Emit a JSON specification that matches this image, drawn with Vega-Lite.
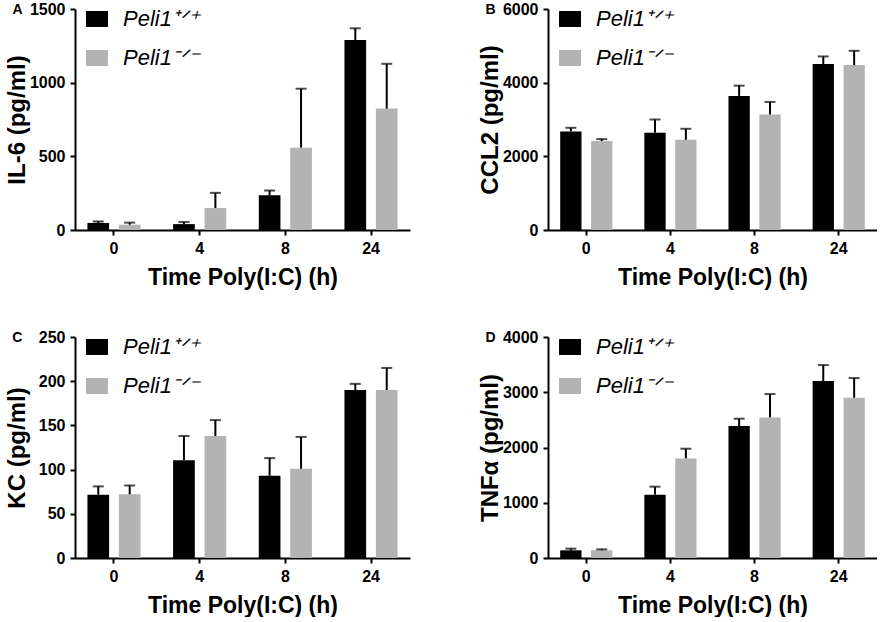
{
  "$schema": "https://vega.github.io/schema/vega-lite/v6.json",
  "padding": {"left": 5, "top": 1, "right": 0, "bottom": 0},
  "background": "#ffffff",
  "datasets": {
    "cyto": [
      {"panel": "A", "time": "0", "geno": "Peli1⁺ᐟ⁺", "mean": 48, "upper": 58},
      {"panel": "A", "time": "0", "geno": "Peli1⁻ᐟ⁻", "mean": 36, "upper": 50},
      {"panel": "A", "time": "4", "geno": "Peli1⁺ᐟ⁺", "mean": 40, "upper": 54},
      {"panel": "A", "time": "4", "geno": "Peli1⁻ᐟ⁻", "mean": 149, "upper": 252},
      {"panel": "A", "time": "8", "geno": "Peli1⁺ᐟ⁺", "mean": 236, "upper": 268},
      {"panel": "A", "time": "8", "geno": "Peli1⁻ᐟ⁻", "mean": 559, "upper": 959},
      {"panel": "A", "time": "24", "geno": "Peli1⁺ᐟ⁺", "mean": 1290, "upper": 1369},
      {"panel": "A", "time": "24", "geno": "Peli1⁻ᐟ⁻", "mean": 824, "upper": 1128},
      {"panel": "B", "time": "0", "geno": "Peli1⁺ᐟ⁺", "mean": 2676, "upper": 2775},
      {"panel": "B", "time": "0", "geno": "Peli1⁻ᐟ⁻", "mean": 2414, "upper": 2468},
      {"panel": "B", "time": "4", "geno": "Peli1⁺ᐟ⁺", "mean": 2640, "upper": 3000},
      {"panel": "B", "time": "4", "geno": "Peli1⁻ᐟ⁻", "mean": 2450, "upper": 2748},
      {"panel": "B", "time": "8", "geno": "Peli1⁺ᐟ⁺", "mean": 3640, "upper": 3919},
      {"panel": "B", "time": "8", "geno": "Peli1⁻ᐟ⁻", "mean": 3135, "upper": 3477},
      {"panel": "B", "time": "24", "geno": "Peli1⁺ᐟ⁺", "mean": 4505, "upper": 4712},
      {"panel": "B", "time": "24", "geno": "Peli1⁻ᐟ⁻", "mean": 4477, "upper": 4865},
      {"panel": "C", "time": "0", "geno": "Peli1⁺ᐟ⁺", "mean": 71.6, "upper": 81},
      {"panel": "C", "time": "0", "geno": "Peli1⁻ᐟ⁻", "mean": 72, "upper": 82},
      {"panel": "C", "time": "4", "geno": "Peli1⁺ᐟ⁺", "mean": 110.6, "upper": 138},
      {"panel": "C", "time": "4", "geno": "Peli1⁻ᐟ⁻", "mean": 138, "upper": 156},
      {"panel": "C", "time": "8", "geno": "Peli1⁺ᐟ⁺", "mean": 93, "upper": 113},
      {"panel": "C", "time": "8", "geno": "Peli1⁻ᐟ⁻", "mean": 101, "upper": 137},
      {"panel": "C", "time": "24", "geno": "Peli1⁺ᐟ⁺", "mean": 190, "upper": 197},
      {"panel": "C", "time": "24", "geno": "Peli1⁻ᐟ⁻", "mean": 190, "upper": 215},
      {"panel": "D", "time": "0", "geno": "Peli1⁺ᐟ⁺", "mean": 139, "upper": 169},
      {"panel": "D", "time": "0", "geno": "Peli1⁻ᐟ⁻", "mean": 139, "upper": 157},
      {"panel": "D", "time": "4", "geno": "Peli1⁺ᐟ⁺", "mean": 1146, "upper": 1291},
      {"panel": "D", "time": "4", "geno": "Peli1⁻ᐟ⁻", "mean": 1803, "upper": 1978},
      {"panel": "D", "time": "8", "geno": "Peli1⁺ᐟ⁺", "mean": 2388, "upper": 2521},
      {"panel": "D", "time": "8", "geno": "Peli1⁻ᐟ⁻", "mean": 2545, "upper": 2967},
      {"panel": "D", "time": "24", "geno": "Peli1⁺ᐟ⁺", "mean": 3202, "upper": 3492},
      {"panel": "D", "time": "24", "geno": "Peli1⁻ᐟ⁻", "mean": 2901, "upper": 3257}
    ]
  },
  "data": {"name": "cyto"},
  "columns": 2,
  "spacing": {"column": 68, "row": 40},
  "concat": [
    {
      "width": 335,
      "height": 221,
      "title": {"text": "A"},
      "transform": [{"filter": "datum.panel === 'A'"}],
      "encoding": {
        "x": {"field": "time", "type": "nominal", "title": "Time Poly(I:C) (h)",
              "scale": {"domain": ["0", "4", "8", "24"], "paddingInner": 0.38, "paddingOuter": 0.145}},
        "xOffset": {"field": "geno", "type": "nominal",
                    "scale": {"domain": ["Peli1⁺ᐟ⁺", "Peli1⁻ᐟ⁻"], "paddingInner": 0.31, "paddingOuter": 0}}
      },
      "layer": [
        {
          "mark": {"type": "bar"},
          "encoding": {
            "y": {"field": "mean", "type": "quantitative", "title": "IL-6 (pg/ml)",
                  "scale": {"domain": [0, 1500], "nice": false},
                  "axis": {"values": [0, 500, 1000, 1500]}},
            "color": {"field": "geno", "type": "nominal", "title": null,
                      "scale": {"domain": ["Peli1⁺ᐟ⁺", "Peli1⁻ᐟ⁻"], "range": ["#000000", "#b3b3b3"]}}
          }
        },
        {
          "mark": {"type": "rule", "color": "#000000", "strokeWidth": 2},
          "encoding": {"y": {"field": "mean", "type": "quantitative"}, "y2": {"field": "upper"}}
        },
        {
          "mark": {"type": "tick", "color": "#000000", "thickness": 2, "size": 11},
          "encoding": {"y": {"field": "upper", "type": "quantitative"}}
        }
      ]
    },
    {
      "width": 329,
      "height": 221,
      "title": {"text": "B"},
      "transform": [{"filter": "datum.panel === 'B'"}],
      "encoding": {
        "x": {"field": "time", "type": "nominal", "title": "Time Poly(I:C) (h)",
              "scale": {"domain": ["0", "4", "8", "24"], "paddingInner": 0.38, "paddingOuter": 0.145}},
        "xOffset": {"field": "geno", "type": "nominal",
                    "scale": {"domain": ["Peli1⁺ᐟ⁺", "Peli1⁻ᐟ⁻"], "paddingInner": 0.31, "paddingOuter": 0}}
      },
      "layer": [
        {
          "mark": {"type": "bar"},
          "encoding": {
            "y": {"field": "mean", "type": "quantitative", "title": "CCL2 (pg/ml)",
                  "scale": {"domain": [0, 6000], "nice": false},
                  "axis": {"values": [0, 2000, 4000, 6000]}},
            "color": {"field": "geno", "type": "nominal", "title": null,
                      "scale": {"domain": ["Peli1⁺ᐟ⁺", "Peli1⁻ᐟ⁻"], "range": ["#000000", "#b3b3b3"]}}
          }
        },
        {
          "mark": {"type": "rule", "color": "#000000", "strokeWidth": 2},
          "encoding": {"y": {"field": "mean", "type": "quantitative"}, "y2": {"field": "upper"}}
        },
        {
          "mark": {"type": "tick", "color": "#000000", "thickness": 2, "size": 11},
          "encoding": {"y": {"field": "upper", "type": "quantitative"}}
        }
      ]
    },
    {
      "width": 335,
      "height": 221,
      "title": {"text": "C"},
      "transform": [{"filter": "datum.panel === 'C'"}],
      "encoding": {
        "x": {"field": "time", "type": "nominal", "title": "Time Poly(I:C) (h)",
              "scale": {"domain": ["0", "4", "8", "24"], "paddingInner": 0.38, "paddingOuter": 0.145}},
        "xOffset": {"field": "geno", "type": "nominal",
                    "scale": {"domain": ["Peli1⁺ᐟ⁺", "Peli1⁻ᐟ⁻"], "paddingInner": 0.31, "paddingOuter": 0}}
      },
      "layer": [
        {
          "mark": {"type": "bar"},
          "encoding": {
            "y": {"field": "mean", "type": "quantitative", "title": "KC (pg/ml)",
                  "scale": {"domain": [0, 250], "nice": false},
                  "axis": {"values": [0, 50, 100, 150, 200, 250], "titlePadding": 9}},
            "color": {"field": "geno", "type": "nominal", "title": null,
                      "scale": {"domain": ["Peli1⁺ᐟ⁺", "Peli1⁻ᐟ⁻"], "range": ["#000000", "#b3b3b3"]}}
          }
        },
        {
          "mark": {"type": "rule", "color": "#000000", "strokeWidth": 2},
          "encoding": {"y": {"field": "mean", "type": "quantitative"}, "y2": {"field": "upper"}}
        },
        {
          "mark": {"type": "tick", "color": "#000000", "thickness": 2, "size": 11},
          "encoding": {"y": {"field": "upper", "type": "quantitative"}}
        }
      ]
    },
    {
      "width": 329,
      "height": 221,
      "title": {"text": "D"},
      "transform": [{"filter": "datum.panel === 'D'"}],
      "encoding": {
        "x": {"field": "time", "type": "nominal", "title": "Time Poly(I:C) (h)",
              "scale": {"domain": ["0", "4", "8", "24"], "paddingInner": 0.38, "paddingOuter": 0.145}},
        "xOffset": {"field": "geno", "type": "nominal",
                    "scale": {"domain": ["Peli1⁺ᐟ⁺", "Peli1⁻ᐟ⁻"], "paddingInner": 0.31, "paddingOuter": 0}}
      },
      "layer": [
        {
          "mark": {"type": "bar"},
          "encoding": {
            "y": {"field": "mean", "type": "quantitative", "title": "TNFα (pg/ml)",
                  "scale": {"domain": [0, 4000], "nice": false},
                  "axis": {"values": [0, 1000, 2000, 3000, 4000]}},
            "color": {"field": "geno", "type": "nominal", "title": null,
                      "scale": {"domain": ["Peli1⁺ᐟ⁺", "Peli1⁻ᐟ⁻"], "range": ["#000000", "#b3b3b3"]}}
          }
        },
        {
          "mark": {"type": "rule", "color": "#000000", "strokeWidth": 2},
          "encoding": {"y": {"field": "mean", "type": "quantitative"}, "y2": {"field": "upper"}}
        },
        {
          "mark": {"type": "tick", "color": "#000000", "thickness": 2, "size": 11},
          "encoding": {"y": {"field": "upper", "type": "quantitative"}}
        }
      ]
    }
  ],
  "resolve": {
    "scale": {"x": "independent", "y": "independent", "xOffset": "independent", "color": "independent"},
    "legend": {"color": "independent"}
  },
  "config": {
    "font": "Liberation Sans",
    "view": {"stroke": null},
    "title": {"anchor": "start", "frame": "bounds", "fontSize": 14, "fontWeight": "bold", "color": "#000000", "offset": -16, "dx": 7},
    "axis": {
      "grid": false,
      "domainColor": "#000000",
      "domainWidth": 2,
      "tickColor": "#000000",
      "tickWidth": 2,
      "tickSize": 5,
      "labelColor": "#000000",
      "labelFontSize": 16,
      "labelFontWeight": "bold",
      "titleColor": "#000000",
      "titleFontSize": 24,
      "titleFontWeight": "bold",
      "format": "d"
    },
    "axisX": {"labelAngle": 0, "labelPadding": 5, "titlePadding": 10, "titleFontSize": 23},
    "axisY": {"labelPadding": 5, "titlePadding": 0},
    "legend": {
      "orient": "none",
      "legendX": 11,
      "legendY": -1,
      "padding": 0,
      "symbolType": "M-1,-0.73H1V0.73H-1Z",
      "symbolSize": 484,
      "symbolStrokeWidth": 0,
      "labelFontSize": 22,
      "labelFontStyle": "italic",
      "labelColor": "#000000",
      "labelOffset": 15,
      "rowPadding": 17,
      "labelLimit": 200
    }
  }
}
